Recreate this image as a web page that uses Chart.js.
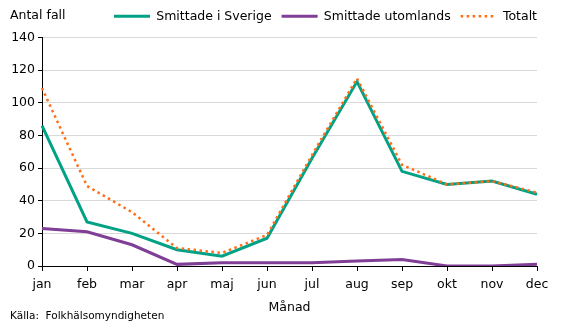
<!DOCTYPE html>
<html>
<head>
<meta charset="utf-8">
<script src="https://cdn.jsdelivr.net/npm/chart.js@4"></script>
<style>
  html, body { margin: 0; padding: 0; background: #fff; }
  #wrap { width: 567px; height: 323px; }
</style>
</head>
<body>
<div id="wrap"><canvas id="fallChart" width="567" height="323"></canvas></div>
<script>
const months = ["jan", "feb", "mar", "apr", "maj", "jun", "jul", "aug", "sep", "okt", "nov", "dec"];
const smittadeSverige = [86, 27, 20, 10, 6, 17, 66, 113, 58, 50, 52, 44];
const smittadeUtomlands = [23, 21, 13, 1, 2, 2, 2, 3, 4, 0, 0, 1];
const totalt = [109, 49, 33, 11, 8, 19, 68, 115, 62, 50, 52, 45];
const yTicks = [0, 20, 40, 60, 80, 100, 120, 140];

const FONT = "'DejaVu Sans', Verdana, sans-serif";

// y-axis caption and source line sit outside the chart area
const extraText = {
    id: "extraText",
    afterDraw(chart) {
        const ctx = chart.ctx;
        ctx.save();
        ctx.fillStyle = "#000";
        ctx.textBaseline = "middle";
        ctx.textAlign = "left";
        ctx.font = "12.5px " + FONT;
        ctx.fillText("Antal fall", 10, 16);
        ctx.font = "10.5px " + FONT;
        ctx.fillText("Källa:  Folkhälsomyndigheten", 10, 316);
        ctx.restore();
    }
};

// a bit more room under the legend
const legendGap = {
    id: "legendGap",
    beforeUpdate(chart) {
        const legend = chart.legend;
        if (legend && !legend._gapWrapped) {
            const fit = legend.fit;
            legend.fit = function () {
                fit.call(this);
                this.height += 5;
            };
            legend._gapWrapped = true;
        }
    }
};

document.addEventListener("DOMContentLoaded", () => {
    const canvas = document.getElementById("fallChart");
    new Chart(canvas, {
        type: "line",
        data: {
            labels: months,
            datasets: [{
                label: "Smittade i Sverige",
                data: smittadeSverige,
                borderColor: "#00a184",
                backgroundColor: "#00a184",
                borderWidth: 3,
                pointRadius: 0,
                pointStyle: "line",
                tension: 0,
                order: 2
            }, {
                label: "Smittade utomlands",
                data: smittadeUtomlands,
                borderColor: "#803e96",
                backgroundColor: "#803e96",
                borderWidth: 3,
                pointRadius: 0,
                pointStyle: "line",
                tension: 0,
                order: 3
            }, {
                label: "Totalt",
                data: totalt,
                borderColor: "#ff6d17",
                backgroundColor: "#ff6d17",
                borderWidth: 2.5,
                borderDash: [2.5, 3.5],
                pointRadius: 0,
                pointStyle: "line",
                tension: 0,
                order: 1
            }]
        },
        options: {
            responsive: false,
            animation: false,
            layout: {padding: {left: 0, right: 20, top: 0, bottom: 8}},
            plugins: {
                legend: {
                    position: "top",
                    align: "end",
                    labels: {
                        usePointStyle: true,
                        pointStyleWidth: 36,
                        boxHeight: 12,
                        padding: 10,
                        color: "#000",
                        font: {family: FONT, size: 12.5},
                        sort: (a, b) => a.datasetIndex - b.datasetIndex,
                        // point style drops the dash, so take it from the dataset
                        generateLabels(chart) {
                            const items = Chart.defaults.plugins.legend.labels.generateLabels(chart);
                            items.forEach(item => {
                                const ds = chart.data.datasets[item.datasetIndex];
                                item.lineDash = ds.borderDash || [];
                                item.lineWidth = ds.borderWidth;
                            });
                            return items;
                        }
                    }
                },
                tooltip: {enabled: false}
            },
            scales: {
                x: {
                    offset: false,
                    afterFit(scale) {
                        scale.paddingRight = 30;
                    },
                    grid: {drawOnChartArea: false, drawTicks: true, tickLength: 5, color: "#000"},
                    border: {color: "#000", width: 1},
                    ticks: {color: "#000", padding: 6, maxRotation: 0, font: {family: FONT, size: 12.5}},
                    title: {display: true, text: "Månad", color: "#000", padding: {top: 2, bottom: 0}, font: {family: FONT, size: 12.5}}
                },
                y: {
                    min: 0,
                    max: 140,
                    afterBuildTicks(scale) {
                        scale.ticks = yTicks.map(v => ({value: v}));
                    },
                    afterFit(scale) {
                        scale.width = 42;
                    },
                    grid: {color: "#d9d9d9", tickColor: "#000", tickLength: 4},
                    border: {color: "#000", width: 1},
                    ticks: {color: "#000", padding: 3, font: {family: FONT, size: 12.5}}
                }
            }
        },
        plugins: [extraText, legendGap]
    });
});
</script>
</body>
</html>
